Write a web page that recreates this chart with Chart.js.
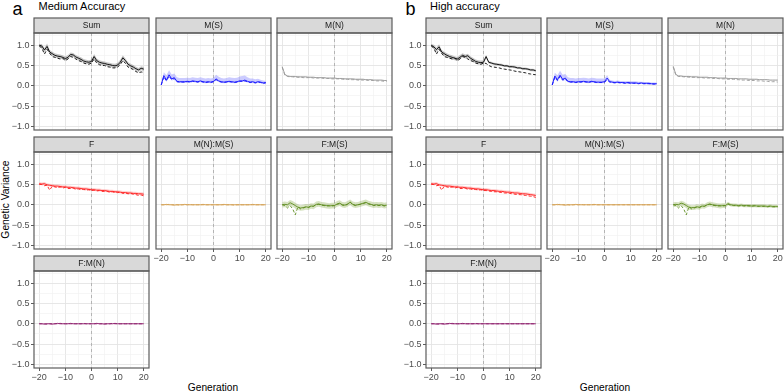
<!DOCTYPE html>
<html>
<head>
<meta charset="utf-8">
<script src="https://cdn.jsdelivr.net/npm/chart.js@4.4.0/dist/chart.umd.min.js"></script>
<style>
  body { margin: 0; background: #fff; }
  #fig { position: relative; width: 784px; height: 391px; overflow: hidden;
         font-family: 'Liberation Sans', Arial, sans-serif; color: #000; }
  #fig canvas { position: absolute; }
  .lbl { position: absolute; white-space: nowrap; }
</style>
</head>
<body>
<div id="fig">
  <div class="lbl" style="left:12.5px;top:-2px;font-size:18px;line-height:22px">a</div>
  <div class="lbl" style="left:38.5px;top:0px;font-size:11px;line-height:13px">Medium Accuracy</div>
  <div class="lbl" style="left:405.5px;top:-2px;font-size:18px;line-height:22px">b</div>
  <div class="lbl" style="left:430px;top:0px;font-size:11px;line-height:13px">High accuracy</div>
  <div class="lbl" style="left:-55px;top:193px;width:120px;text-align:center;font-size:10.3px;line-height:13px;transform:rotate(-90deg)">Genetic Variance</div>
  <div class="lbl" style="left:153px;top:381px;width:120px;text-align:center;font-size:10.2px;line-height:13px">Generation</div>
  <div class="lbl" style="left:545px;top:381px;width:120px;text-align:center;font-size:10.2px;line-height:13px">Generation</div>
</div>
<script>
// generations on the x axis
const gens = [-20,-19,-18,-17,-16,-15,-14,-13,-12,-11,-10,-9,-8,-7,-6,-5,-4,-3,-2,-1,0,1,2,3,4,5,6,7,8,9,10,11,12,13,14,15,16,17,18,19,20];
const xBreaks = [-20, -10, 0, 10, 20];
const xMinor = [-15, -5, 5, 15];
const yBreaks = [-1, -0.5, 0, 0.5, 1];
const yMinor = [-0.75, -0.25, 0.25, 0.75, 1.25];
const vlineAt = 0;
const facetNames = ['Sum', 'M(S)', 'M(N)', 'F', 'M(N):M(S)', 'F:M(S)', 'F:M(N)'];
const groupTitles = ['Medium Accuracy', 'High accuracy'];

// ---- a: Medium Accuracy ----
const sumA_est  = [1.00,0.98,0.88,0.97,0.83,0.79,0.75,0.73,0.72,0.70, 0.67,0.70,0.77,0.76,0.71,0.68,0.65,0.61,0.59,0.58, 0.60, 0.72,0.62,0.58,0.56,0.55,0.53,0.52,0.50,0.49,0.51, 0.58,0.69,0.62,0.53,0.49,0.46,0.42,0.39,0.43,0.41];
const sumA_hi   = [1.03,1.03,0.93,1.04,0.88,0.84,0.80,0.78,0.77,0.75, 0.72,0.76,0.82,0.81,0.76,0.73,0.70,0.66,0.64,0.63, 0.65, 0.78,0.67,0.63,0.61,0.60,0.58,0.57,0.55,0.54,0.57, 0.64,0.75,0.67,0.58,0.54,0.51,0.47,0.44,0.48,0.46];
const sumA_lo   = [0.97,0.93,0.83,0.90,0.78,0.74,0.70,0.68,0.67,0.65, 0.62,0.65,0.72,0.71,0.66,0.63,0.60,0.56,0.54,0.53, 0.55, 0.66,0.57,0.53,0.51,0.50,0.48,0.47,0.45,0.44,0.46, 0.53,0.63,0.57,0.48,0.44,0.41,0.37,0.34,0.38,0.36];
const sumA_true = [0.98,0.93,0.78,0.90,0.80,0.72,0.70,0.68,0.66,0.68, 0.62,0.66,0.72,0.70,0.66,0.62,0.60,0.56,0.54,0.53, 0.56, 0.66,0.56,0.52,0.50,0.50,0.47,0.46,0.44,0.44,0.46, 0.52,0.62,0.55,0.46,0.43,0.40,0.35,0.32,0.34,0.33];

const msA_est  = [0.02,0.25,0.14,0.27,0.17,0.20,0.11,0.10,0.10,0.10, 0.11,0.10,0.12,0.11,0.10,0.12,0.10,0.09,0.10,0.09, 0.11, 0.17,0.12,0.10,0.09,0.10,0.11,0.10,0.09,0.10,0.12, 0.12,0.14,0.11,0.09,0.10,0.08,0.10,0.09,0.07,0.08];
const msA_hi   = [0.05,0.33,0.26,0.38,0.28,0.30,0.21,0.19,0.19,0.19, 0.20,0.19,0.21,0.20,0.19,0.21,0.19,0.18,0.19,0.18, 0.20, 0.27,0.22,0.19,0.18,0.19,0.21,0.20,0.19,0.20,0.23, 0.24,0.25,0.21,0.18,0.18,0.16,0.17,0.15,0.13,0.12];
const msA_lo   = [0.00,0.19,0.10,0.21,0.13,0.15,0.08,0.07,0.07,0.07, 0.08,0.07,0.09,0.08,0.07,0.09,0.07,0.06,0.07,0.06, 0.08, 0.13,0.09,0.07,0.06,0.07,0.08,0.07,0.06,0.07,0.09, 0.09,0.10,0.08,0.06,0.07,0.05,0.07,0.06,0.04,0.05];
const msA_true = [0.02,0.22,0.12,0.24,0.15,0.18,0.10,0.09,0.09,0.09, 0.10,0.09,0.11,0.10,0.09,0.11,0.09,0.08,0.09,0.08, 0.10, 0.15,0.11,0.09,0.08,0.09,0.10,0.09,0.08,0.09,0.11, 0.11,0.12,0.10,0.08,0.09,0.07,0.09,0.08,0.06,0.07];

const mnA_est  = [0.47,0.28,0.24,0.23,0.23,0.23,0.22,0.22,0.22,0.22, 0.21,0.21,0.21,0.20,0.20,0.20,0.20,0.19,0.19,0.19, 0.19, 0.18,0.18,0.18,0.17,0.17,0.17,0.17,0.16,0.16,0.16, 0.16,0.15,0.15,0.15,0.14,0.14,0.14,0.14,0.13,0.13];
const mnA_hi   = [0.48,0.29,0.25,0.24,0.24,0.24,0.23,0.23,0.23,0.23, 0.22,0.22,0.22,0.21,0.21,0.21,0.21,0.20,0.20,0.20, 0.20, 0.19,0.19,0.19,0.18,0.18,0.18,0.18,0.17,0.17,0.17, 0.17,0.16,0.16,0.16,0.15,0.15,0.15,0.15,0.14,0.14];
const mnA_lo   = [0.46,0.27,0.23,0.22,0.22,0.22,0.21,0.21,0.21,0.21, 0.20,0.20,0.20,0.19,0.19,0.19,0.19,0.18,0.18,0.18, 0.18, 0.17,0.17,0.17,0.16,0.16,0.16,0.16,0.15,0.15,0.15, 0.15,0.14,0.14,0.14,0.13,0.13,0.13,0.13,0.12,0.12];
const mnA_true = [0.45,0.26,0.23,0.22,0.22,0.21,0.21,0.21,0.20,0.20, 0.20,0.20,0.19,0.19,0.19,0.19,0.18,0.18,0.18,0.17, 0.17, 0.17,0.17,0.16,0.16,0.16,0.15,0.15,0.15,0.14,0.14, 0.14,0.14,0.13,0.13,0.13,0.12,0.12,0.12,0.11,0.11];

const fA_est  = [0.52,0.51,0.52,0.49,0.48,0.47,0.46,0.46,0.45,0.44, 0.44,0.43,0.43,0.42,0.41,0.41,0.40,0.39,0.39,0.38, 0.37, 0.37,0.36,0.36,0.35,0.35,0.34,0.33,0.33,0.32,0.32, 0.31,0.30,0.30,0.29,0.29,0.28,0.28,0.27,0.27,0.26];
const fA_hi   = [0.56,0.55,0.56,0.53,0.52,0.51,0.50,0.50,0.49,0.48, 0.48,0.47,0.47,0.46,0.45,0.45,0.44,0.43,0.43,0.42, 0.41, 0.41,0.40,0.40,0.39,0.39,0.38,0.37,0.37,0.36,0.36, 0.35,0.34,0.34,0.33,0.33,0.32,0.32,0.31,0.31,0.30];
const fA_lo   = [0.49,0.48,0.48,0.46,0.45,0.44,0.43,0.43,0.42,0.41, 0.41,0.40,0.40,0.39,0.38,0.38,0.37,0.36,0.36,0.35, 0.34, 0.34,0.33,0.33,0.32,0.32,0.31,0.30,0.30,0.29,0.29, 0.28,0.27,0.27,0.26,0.26,0.25,0.25,0.24,0.24,0.23];
const fA_true = [0.50,0.50,0.47,0.48,0.36,0.46,0.44,0.42,0.44,0.41, 0.43,0.40,0.40,0.41,0.38,0.39,0.37,0.38,0.36,0.37, 0.35, 0.36,0.34,0.35,0.33,0.33,0.33,0.31,0.32,0.30,0.30, 0.31,0.28,0.29,0.27,0.28,0.26,0.25,0.23,0.24,0.22];

const mmA_est  = [0.00,0.00,0.01,0.00,0.00,-0.01,0.00,0.00,0.00,0.01, 0.00,0.00,0.00,0.00,0.00,0.00,0.01,0.00,0.00,0.00, 0.00, 0.00,0.00,0.00,0.01,0.00,0.00,0.00,0.00,0.00,0.00, 0.00,0.00,0.00,0.00,0.01,0.00,0.00,0.00,0.00,0.00];
const mmA_hi   = [0.015,0.015,0.02,0.015,0.015,0.01,0.015,0.015,0.015,0.02, 0.015,0.015,0.015,0.015,0.015,0.015,0.02,0.015,0.015,0.015, 0.015, 0.015,0.015,0.015,0.02,0.015,0.015,0.015,0.015,0.015,0.015, 0.015,0.015,0.015,0.015,0.02,0.015,0.015,0.015,0.015,0.015];
const mmA_lo   = [-0.015,-0.015,-0.01,-0.015,-0.015,-0.02,-0.015,-0.015,-0.015,-0.01, -0.015,-0.015,-0.015,-0.015,-0.015,-0.015,-0.01,-0.015,-0.015,-0.015, -0.015, -0.015,-0.015,-0.015,-0.01,-0.015,-0.015,-0.015,-0.015,-0.015,-0.015, -0.015,-0.015,-0.015,-0.015,-0.01,-0.015,-0.015,-0.015,-0.015,-0.015];
const mmA_true = [0.00,0.00,0.00,0.01,0.00,0.00,0.00,-0.01,0.00,0.00, 0.00,0.01,0.00,0.00,0.00,0.00,0.00,0.00,0.00,0.00, 0.00, 0.00,0.00,0.00,0.00,0.00,0.00,0.00,-0.01,0.00,0.00, 0.00,0.00,0.00,0.00,0.00,0.00,0.00,0.00,0.00,0.00];

const fmsA_est  = [0.00,0.01,0.00,0.05,0.02,-0.02,-0.06,-0.08,-0.07,-0.05, -0.06,-0.03,-0.04,0.01,0.02,0.00,-0.01,-0.02,-0.03,-0.02, -0.02, 0.02,0.04,0.00,-0.01,0.02,0.06,0.01,-0.01,0.00,0.02, 0.04,0.06,0.03,0.01,-0.01,0.00,-0.01,0.00,-0.02,-0.01];
const fmsA_hi   = [0.07,0.08,0.07,0.12,0.09,0.05,0.01,-0.01,0.00,0.02, 0.01,0.04,0.03,0.08,0.09,0.07,0.06,0.05,0.04,0.05, 0.05, 0.09,0.11,0.07,0.06,0.09,0.13,0.08,0.06,0.07,0.09, 0.11,0.13,0.10,0.08,0.06,0.07,0.06,0.07,0.05,0.06];
const fmsA_lo   = [-0.07,-0.06,-0.07,-0.02,-0.05,-0.09,-0.13,-0.15,-0.14,-0.12, -0.13,-0.10,-0.11,-0.06,-0.05,-0.07,-0.08,-0.09,-0.10,-0.09, -0.09, -0.05,-0.03,-0.07,-0.08,-0.05,-0.01,-0.06,-0.08,-0.07,-0.05, -0.03,-0.01,-0.04,-0.06,-0.08,-0.07,-0.08,-0.07,-0.09,-0.08];
const fmsA_true = [0.00,-0.02,-0.08,-0.02,-0.10,-0.25,-0.05,-0.10,-0.08,-0.06, -0.07,-0.04,-0.03,0.00,0.01,-0.01,-0.02,-0.03,-0.02,-0.03, -0.02, 0.01,0.03,-0.01,-0.02,0.01,0.07,0.00,-0.02,0.00,0.01, 0.03,0.05,0.02,0.00,-0.02,-0.01,-0.02,-0.01,-0.03,-0.02];

const fmnA_est  = [0.00,0.00,-0.01,0.00,0.00,-0.01,0.00,0.01,0.00,0.00, 0.00,0.00,0.01,0.00,0.00,0.00,0.00,0.00,0.00,0.00, 0.00, 0.00,0.01,0.00,0.00,-0.01,0.00,0.00,0.00,0.01,0.00, 0.00,0.00,0.00,0.00,0.00,0.00,0.00,0.00,0.00,0.00];
const fmnA_hi   = [0.015,0.015,0.01,0.015,0.015,0.01,0.015,0.02,0.015,0.015, 0.015,0.015,0.02,0.015,0.015,0.015,0.015,0.015,0.015,0.015, 0.015, 0.015,0.02,0.015,0.015,0.01,0.015,0.015,0.015,0.02,0.015, 0.015,0.015,0.015,0.015,0.015,0.015,0.015,0.015,0.015,0.015];
const fmnA_lo   = [-0.015,-0.015,-0.02,-0.015,-0.015,-0.02,-0.015,-0.01,-0.015,-0.015, -0.015,-0.015,-0.01,-0.015,-0.015,-0.015,-0.015,-0.015,-0.015,-0.015, -0.015, -0.015,-0.01,-0.015,-0.015,-0.02,-0.015,-0.015,-0.015,-0.01,-0.015, -0.015,-0.015,-0.015,-0.015,-0.015,-0.015,-0.015,-0.015,-0.015,-0.015];
const fmnA_true = [0.00,0.00,0.00,-0.01,0.00,0.00,0.00,0.00,0.01,0.00, 0.00,0.00,0.00,0.00,0.00,0.00,0.00,0.01,0.00,0.00, 0.00, 0.00,0.00,0.00,0.00,0.00,0.00,0.00,0.01,0.00,0.00, 0.00,0.00,0.00,0.00,0.00,0.00,0.00,0.00,0.00,0.00];

// ---- b: High accuracy ----
const sumB_est  = [1.00,0.96,0.89,0.96,0.83,0.79,0.75,0.72,0.70,0.68, 0.66,0.70,0.75,0.72,0.74,0.68,0.64,0.60,0.58,0.57, 0.58, 0.72,0.58,0.56,0.54,0.53,0.52,0.51,0.49,0.49,0.47, 0.47,0.46,0.44,0.44,0.42,0.42,0.41,0.39,0.39,0.37];
const sumB_hi   = [1.03,1.01,0.94,1.02,0.88,0.84,0.80,0.77,0.75,0.73, 0.71,0.76,0.80,0.77,0.79,0.73,0.69,0.65,0.63,0.62, 0.63, 0.76,0.61,0.59,0.57,0.56,0.55,0.54,0.52,0.52,0.50, 0.50,0.49,0.47,0.47,0.45,0.45,0.44,0.42,0.42,0.40];
const sumB_lo   = [0.97,0.91,0.84,0.90,0.78,0.74,0.70,0.67,0.65,0.63, 0.61,0.65,0.70,0.67,0.69,0.63,0.59,0.55,0.53,0.52, 0.53, 0.67,0.55,0.53,0.51,0.50,0.49,0.48,0.46,0.46,0.44, 0.44,0.43,0.41,0.41,0.39,0.39,0.38,0.36,0.36,0.34];
const sumB_true = [0.98,0.93,0.78,0.90,0.80,0.72,0.70,0.68,0.66,0.68, 0.62,0.66,0.72,0.70,0.66,0.62,0.60,0.56,0.54,0.53, 0.56, 0.55,0.50,0.47,0.46,0.45,0.44,0.42,0.41,0.40,0.39, 0.38,0.36,0.35,0.34,0.33,0.32,0.30,0.29,0.28,0.27];

const msB_est  = [0.02,0.24,0.15,0.26,0.16,0.19,0.11,0.10,0.10,0.09, 0.10,0.10,0.11,0.10,0.09,0.11,0.10,0.09,0.09,0.09, 0.10, 0.19,0.10,0.09,0.08,0.09,0.08,0.08,0.07,0.08,0.07, 0.07,0.07,0.06,0.07,0.06,0.06,0.06,0.05,0.05,0.05];
const msB_hi   = [0.05,0.32,0.26,0.37,0.27,0.29,0.21,0.19,0.19,0.18, 0.19,0.19,0.20,0.19,0.18,0.20,0.19,0.18,0.18,0.18, 0.18, 0.26,0.15,0.13,0.12,0.13,0.12,0.12,0.11,0.12,0.11, 0.11,0.11,0.10,0.10,0.09,0.09,0.09,0.08,0.08,0.08];
const msB_lo   = [0.00,0.18,0.10,0.20,0.12,0.14,0.08,0.07,0.07,0.06, 0.07,0.07,0.08,0.07,0.06,0.08,0.07,0.06,0.06,0.06, 0.07, 0.14,0.08,0.07,0.06,0.07,0.06,0.06,0.05,0.06,0.05, 0.05,0.05,0.04,0.05,0.04,0.04,0.04,0.03,0.03,0.03];
const msB_true = [0.02,0.21,0.13,0.23,0.14,0.17,0.10,0.09,0.09,0.08, 0.09,0.09,0.10,0.09,0.08,0.10,0.09,0.08,0.08,0.08, 0.09, 0.14,0.09,0.08,0.07,0.08,0.07,0.07,0.06,0.07,0.06, 0.06,0.06,0.05,0.06,0.05,0.05,0.05,0.04,0.04,0.04];

const mnB_est  = [0.48,0.28,0.24,0.24,0.23,0.23,0.23,0.22,0.22,0.22, 0.21,0.21,0.21,0.21,0.20,0.20,0.20,0.19,0.19,0.19, 0.19, 0.18,0.18,0.18,0.18,0.17,0.17,0.17,0.17,0.16,0.16, 0.16,0.16,0.15,0.15,0.15,0.15,0.14,0.14,0.14,0.14];
const mnB_hi   = [0.49,0.29,0.25,0.25,0.24,0.24,0.24,0.23,0.23,0.23, 0.22,0.22,0.22,0.22,0.21,0.21,0.21,0.20,0.20,0.20, 0.20, 0.19,0.19,0.19,0.19,0.18,0.18,0.18,0.18,0.17,0.17, 0.17,0.17,0.16,0.16,0.16,0.16,0.15,0.15,0.15,0.15];
const mnB_lo   = [0.47,0.27,0.23,0.23,0.22,0.22,0.22,0.21,0.21,0.21, 0.20,0.20,0.20,0.20,0.19,0.19,0.19,0.18,0.18,0.18, 0.18, 0.17,0.17,0.17,0.17,0.16,0.16,0.16,0.16,0.15,0.15, 0.15,0.15,0.14,0.14,0.14,0.14,0.13,0.13,0.13,0.13];
const mnB_true = [0.46,0.26,0.23,0.23,0.22,0.22,0.21,0.21,0.21,0.20, 0.20,0.20,0.19,0.19,0.19,0.18,0.18,0.18,0.17,0.17, 0.17, 0.16,0.16,0.16,0.15,0.15,0.14,0.14,0.14,0.13,0.13, 0.13,0.12,0.12,0.12,0.11,0.11,0.10,0.10,0.10,0.09];

const fB_est  = [0.52,0.51,0.52,0.49,0.48,0.47,0.46,0.46,0.45,0.44, 0.44,0.43,0.43,0.42,0.41,0.41,0.40,0.39,0.39,0.38, 0.37, 0.37,0.36,0.35,0.35,0.34,0.33,0.33,0.32,0.31,0.31, 0.30,0.29,0.29,0.28,0.27,0.27,0.26,0.25,0.24,0.23];
const fB_hi   = [0.56,0.55,0.56,0.53,0.52,0.51,0.50,0.50,0.49,0.48, 0.48,0.47,0.47,0.46,0.45,0.45,0.44,0.43,0.43,0.42, 0.41, 0.41,0.40,0.39,0.39,0.38,0.37,0.37,0.36,0.35,0.35, 0.34,0.33,0.33,0.32,0.31,0.31,0.30,0.29,0.28,0.27];
const fB_lo   = [0.49,0.48,0.49,0.46,0.45,0.44,0.43,0.43,0.42,0.41, 0.41,0.40,0.40,0.39,0.38,0.38,0.37,0.36,0.36,0.35, 0.34, 0.34,0.33,0.32,0.32,0.31,0.30,0.30,0.29,0.28,0.28, 0.27,0.26,0.26,0.25,0.24,0.24,0.23,0.22,0.21,0.20];
const fB_true = [0.50,0.50,0.47,0.48,0.36,0.46,0.44,0.42,0.44,0.41, 0.43,0.40,0.40,0.41,0.38,0.39,0.37,0.38,0.36,0.37, 0.35, 0.35,0.34,0.33,0.32,0.32,0.31,0.30,0.29,0.29,0.28, 0.27,0.26,0.25,0.25,0.24,0.23,0.22,0.21,0.20,0.18];

const mmB_est  = [0.00,0.00,0.01,0.00,0.00,-0.01,0.00,0.00,0.00,0.01, 0.00,0.00,0.00,0.00,0.00,0.00,0.01,0.00,0.00,0.00, 0.00, 0.00,0.00,0.00,0.00,0.00,0.00,0.00,0.00,0.00,0.00, 0.00,0.00,0.00,0.00,0.00,0.00,0.00,0.00,0.00,0.00];
const mmB_hi   = [0.015,0.015,0.02,0.015,0.015,0.01,0.015,0.015,0.015,0.02, 0.015,0.015,0.015,0.015,0.015,0.015,0.02,0.015,0.015,0.015, 0.015, 0.01,0.01,0.01,0.01,0.01,0.01,0.01,0.01,0.01,0.01, 0.01,0.01,0.01,0.01,0.01,0.01,0.01,0.01,0.01,0.01];
const mmB_lo   = [-0.015,-0.015,-0.01,-0.015,-0.015,-0.02,-0.015,-0.015,-0.015,-0.01, -0.015,-0.015,-0.015,-0.015,-0.015,-0.015,-0.01,-0.015,-0.015,-0.015, -0.015, -0.01,-0.01,-0.01,-0.01,-0.01,-0.01,-0.01,-0.01,-0.01,-0.01, -0.01,-0.01,-0.01,-0.01,-0.01,-0.01,-0.01,-0.01,-0.01,-0.01];
const mmB_true = [0.00,0.00,0.00,0.01,0.00,0.00,0.00,-0.01,0.00,0.00, 0.00,0.01,0.00,0.00,0.00,0.00,0.00,0.00,0.00,0.00, 0.00, 0.00,0.00,0.00,0.00,0.00,0.00,0.00,0.00,0.00,0.00, 0.00,0.00,0.00,0.00,0.00,0.00,0.00,0.00,0.00,0.00];

const fmsB_est  = [0.00,0.01,0.00,0.04,0.02,-0.02,-0.06,-0.07,-0.07,-0.05, -0.06,-0.03,-0.04,0.00,0.02,0.00,-0.01,-0.02,-0.03,-0.02, -0.02, 0.03,0.00,-0.01,-0.01,-0.02,-0.01,-0.02,-0.02,-0.02,-0.03, -0.02,-0.03,-0.03,-0.03,-0.03,-0.04,-0.03,-0.04,-0.04,-0.04];
const fmsB_hi   = [0.06,0.07,0.06,0.10,0.08,0.04,0.00,-0.01,-0.01,0.01, 0.00,0.03,0.02,0.06,0.08,0.06,0.05,0.04,0.03,0.04, 0.04, 0.07,0.04,0.03,0.03,0.02,0.03,0.02,0.02,0.02,0.01, 0.02,0.01,0.01,0.01,0.01,0.00,0.01,0.00,0.00,0.00];
const fmsB_lo   = [-0.06,-0.05,-0.06,-0.02,-0.04,-0.08,-0.12,-0.13,-0.13,-0.11, -0.12,-0.09,-0.10,-0.06,-0.04,-0.06,-0.07,-0.08,-0.09,-0.08, -0.08, -0.01,-0.04,-0.05,-0.05,-0.06,-0.05,-0.06,-0.06,-0.06,-0.07, -0.06,-0.07,-0.07,-0.07,-0.07,-0.08,-0.07,-0.08,-0.08,-0.08];
const fmsB_true = [0.00,-0.02,-0.08,-0.02,-0.10,-0.25,-0.05,-0.10,-0.08,-0.06, -0.07,-0.04,-0.03,0.00,0.01,-0.01,-0.02,-0.03,-0.02,-0.03, -0.02, 0.01,-0.01,-0.02,-0.02,-0.03,-0.02,-0.03,-0.03,-0.03,-0.04, -0.03,-0.04,-0.04,-0.04,-0.04,-0.05,-0.04,-0.05,-0.05,-0.05];

const fmnB_est  = [0.00,0.00,-0.01,0.00,0.00,-0.01,0.00,0.01,0.00,0.00, 0.00,0.00,0.01,0.00,0.00,0.00,0.00,0.00,0.00,0.00, 0.00, 0.00,0.00,0.00,0.00,0.00,0.00,0.00,0.00,0.00,0.00, 0.00,0.00,0.00,0.00,0.00,0.00,0.00,0.00,0.00,0.00];
const fmnB_hi   = fmnA_hi;
const fmnB_lo   = fmnA_lo;
const fmnB_true = [0.00,0.00,0.00,-0.01,0.00,0.00,0.00,0.00,0.01,0.00, 0.00,0.00,0.00,0.00,0.00,0.00,0.00,0.01,0.00,0.00, 0.00, 0.00,0.00,0.00,0.00,0.00,0.00,0.00,0.00,0.00,0.00, 0.00,0.00,0.00,0.00,0.00,0.00,0.00,0.00,0.00,0.00];

// series per facet, [estimate, lower, upper, true]
const groupSeries = [
  [[sumA_est, sumA_lo, sumA_hi, sumA_true], [msA_est, msA_lo, msA_hi, msA_true], [mnA_est, mnA_lo, mnA_hi, mnA_true],
   [fA_est, fA_lo, fA_hi, fA_true], [mmA_est, mmA_lo, mmA_hi, mmA_true], [fmsA_est, fmsA_lo, fmsA_hi, fmsA_true],
   [fmnA_est, fmnA_lo, fmnA_hi, fmnA_true]],
  [[sumB_est, sumB_lo, sumB_hi, sumB_true], [msB_est, msB_lo, msB_hi, msB_true], [mnB_est, mnB_lo, mnB_hi, mnB_true],
   [fB_est, fB_lo, fB_hi, fB_true], [mmB_est, mmB_lo, mmB_hi, mmB_true], [fmsB_est, fmsB_lo, fmsB_hi, fmsB_true],
   [fmnB_est, fmnB_lo, fmnB_hi, fmnB_true]]
];

// look
const FONT = "'Liberation Sans', Arial, sans-serif";
const lineColors = ['#000000', '#1414ff', '#9a9a9a', '#ff1a1a', '#d6a458', '#5e8c1e', '#8e2470'];
const fillColors = ['rgba(0,0,0,0.22)', 'rgba(70,70,255,0.28)', 'rgba(150,150,150,0.3)', 'rgba(255,70,70,0.25)',
                    'rgba(220,170,90,0.35)', 'rgba(120,160,50,0.3)', 'rgba(210,100,160,0.35)'];
const facetPos = [[0,0],[0,1],[0,2],[1,0],[1,1],[1,2],[2,0]];
const groupCols = [[34, 156, 277], [426, 547, 668]];
const rowTops = [18, 137, 256];
const X_MIN = -22, X_MAX = 22, Y_MIN = -1.09, Y_MAX = 1.30;
const STRIP_H = 15, PLOT_W = 115, PLOT_H = 97, Y_AXIS_W = 34, X_AXIS_H = 16, M = 2;

const pts = arr => gens.map((g, i) => ({x: g, y: arr[i]}));
const isIn = (v, list) => list.some(b => Math.abs(b - v) < 1e-9);
const fmt = (v, d) => (v < 0 ? '\u2212' : '') + Math.abs(v).toFixed(d);

const facetPlugin = {
  id: 'facet',
  beforeDatasetsDraw(chart) {
    const {ctx, chartArea: a, scales} = chart;
    const px = scales.x.getPixelForValue(vlineAt);
    ctx.save();
    ctx.strokeStyle = '#a8a8a8';
    ctx.lineWidth = 0.8;
    ctx.setLineDash([3, 3]);
    ctx.beginPath();
    ctx.moveTo(px, a.top);
    ctx.lineTo(px, a.bottom);
    ctx.stroke();
    ctx.restore();
  },
  afterDraw(chart, args, opts) {
    const {ctx, chartArea: a} = chart;
    const w = a.right - a.left;
    ctx.save();
    ctx.fillStyle = '#d9d9d9';
    ctx.fillRect(a.left, a.top - STRIP_H, w, STRIP_H);
    ctx.strokeStyle = '#5c5c5c';
    ctx.lineWidth = 1.2;
    ctx.strokeRect(a.left, a.top - STRIP_H, w, STRIP_H);
    ctx.strokeRect(a.left, a.top, w, a.bottom - a.top);
    ctx.fillStyle = '#1a1a1a';
    ctx.font = '8.5px ' + FONT;
    ctx.textAlign = 'center';
    ctx.textBaseline = 'middle';
    ctx.fillText(opts.title, a.left + w / 2, a.top - STRIP_H / 2 + 0.5);
    ctx.restore();
  }
};

function axisGrid(major, show) {
  return {
    color: c => (c.tick && isIn(c.tick.value, major)) ? '#e4e4e4' : '#f0f0f0',
    lineWidth: c => (c.tick && isIn(c.tick.value, major)) ? 0.9 : 0.6,
    drawTicks: show,
    tickLength: 3,
    tickWidth: 0.8,
    tickColor: c => (c.tick && isIn(c.tick.value, major)) ? '#333333' : 'rgba(0,0,0,0)'
  };
}

function makePanel(g, f) {
  const [r, c] = facetPos[f];
  const showY = c === 0;
  const showX = r === 2 || (r === 1 && c > 0);
  const yw = showY ? Y_AXIS_W : 0;
  const xh = showX ? X_AXIS_H : 0;
  const cv = document.createElement('canvas');
  cv.width = PLOT_W + yw + 2 * M;
  cv.height = STRIP_H + PLOT_H + xh + 2 * M;
  cv.style.left = (groupCols[g][c] - yw - M) + 'px';
  cv.style.top = (rowTops[r] - M) + 'px';
  document.getElementById('fig').appendChild(cv);

  const [est, lo, hi, tru] = groupSeries[g][f];
  const col = lineColors[f];
  new Chart(cv, {
    type: 'line',
    data: {
      datasets: [
        {data: pts(est), borderColor: col, borderWidth: 0.9, pointRadius: 0, fill: false},
        {data: pts(tru), borderColor: col, borderWidth: 0.9, borderDash: [3, 2], pointRadius: 0, fill: false},
        {data: pts(lo), borderColor: 'rgba(0,0,0,0)', borderWidth: 0, pointRadius: 0, fill: false},
        {data: pts(hi), borderColor: 'rgba(0,0,0,0)', borderWidth: 0, pointRadius: 0, fill: '-1', backgroundColor: fillColors[f]}
      ]
    },
    options: {
      responsive: false,
      animation: false,
      devicePixelRatio: 1,
      events: [],
      layout: {padding: {left: M, right: M, top: M + STRIP_H, bottom: M}},
      elements: {line: {tension: 0}},
      plugins: {legend: {display: false}, tooltip: {enabled: false}, facet: {title: facetNames[f]}},
      scales: {
        x: {
          type: 'linear', min: X_MIN, max: X_MAX,
          afterBuildTicks: s => { s.ticks = xBreaks.concat(xMinor).sort((a, b) => a - b).map(v => ({value: v})); },
          afterFit: s => { s.height = xh; s.paddingLeft = 0; s.paddingRight = 0; },
          grid: axisGrid(xBreaks, showX),
          border: {display: false},
          ticks: {display: showX, autoSkip: false, maxRotation: 0, padding: 1, color: '#4d4d4d',
                  font: {family: FONT, size: 9}, callback: v => isIn(v, xBreaks) ? fmt(v, 0) : ''}
        },
        y: {
          type: 'linear', min: Y_MIN, max: Y_MAX,
          afterBuildTicks: s => { s.ticks = yBreaks.concat(yMinor).sort((a, b) => a - b).map(v => ({value: v})); },
          afterFit: s => { s.width = yw; s.paddingTop = 0; s.paddingBottom = 0; },
          grid: axisGrid(yBreaks, showY),
          border: {display: false},
          ticks: {display: showY, autoSkip: false, padding: 1.5, color: '#4d4d4d',
                  font: {family: FONT, size: 9}, callback: v => isIn(v, yBreaks) ? fmt(v, 1) : ''}
        }
      }
    },
    plugins: [facetPlugin]
  });
}

for (let g = 0; g < 2; g++) {
  for (let f = 0; f < facetNames.length; f++) makePanel(g, f);
}
</script>
</body>
</html>
